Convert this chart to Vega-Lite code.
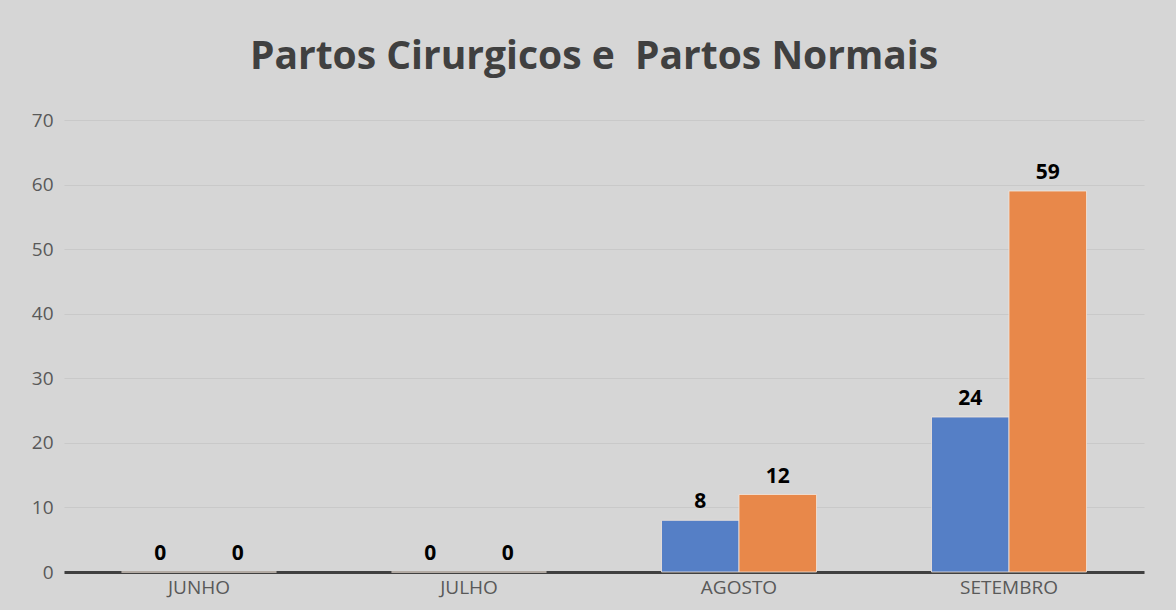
{
  "$schema": "https://vega.github.io/schema/vega-lite/v6.json",
  "autosize": {"type": "none"},
  "width": 1080,
  "height": 452,
  "padding": {"left": 64, "top": 120, "right": 32, "bottom": 38},
  "background": "#d6d6d6",
  "title": {
    "text": "Partos Cirurgicos e\u00a0 Partos Normais",
    "font": "Open Sans",
    "fontSize": 39,
    "fontWeight": "bold",
    "color": "#404040",
    "anchor": "middle",
    "offset": 34,
    "dx": -10
  },
  "config": {
    "view": {"stroke": null},
    "font": "Open Sans"
  },
  "data": {
    "values": [
      {"mes": "JUNHO", "tipo": "Partos Cirurgicos", "valor": 0},
      {"mes": "JUNHO", "tipo": "Partos Normais", "valor": 0},
      {"mes": "JULHO", "tipo": "Partos Cirurgicos", "valor": 0},
      {"mes": "JULHO", "tipo": "Partos Normais", "valor": 0},
      {"mes": "AGOSTO", "tipo": "Partos Cirurgicos", "valor": 8},
      {"mes": "AGOSTO", "tipo": "Partos Normais", "valor": 12},
      {"mes": "SETEMBRO", "tipo": "Partos Cirurgicos", "valor": 24},
      {"mes": "SETEMBRO", "tipo": "Partos Normais", "valor": 59}
    ]
  },
  "encoding": {
    "x": {
      "field": "mes",
      "type": "nominal",
      "sort": ["JUNHO", "JULHO", "AGOSTO", "SETEMBRO"],
      "scale": {"paddingInner": 0, "paddingOuter": 0},
      "axis": {
        "title": null,
        "labelAngle": 0,
        "labelFontSize": 19,
        "labelColor": "#595959",
        "labelPadding": 6,
        "ticks": false,
        "domainColor": "#404040",
        "domainWidth": 3,
        "labelFont": "Open Sans"
      }
    },
    "xOffset": {
      "field": "tipo",
      "type": "nominal",
      "scale": {"paddingInner": 0, "paddingOuter": 0.742}
    },
    "y": {
      "field": "valor",
      "type": "quantitative",
      "scale": {"domain": [0, 70], "nice": false},
      "axis": {
        "title": null,
        "values": [0, 10, 20, 30, 40, 50, 60, 70],
        "labelFontSize": 19,
        "labelColor": "#595959",
        "labelPadding": 11,
        "ticks": false,
        "domain": false,
        "gridColor": "#c9c9c9",
        "gridWidth": 1,
        "labelFont": "Open Sans"
      }
    }
  },
  "layer": [
    {
      "mark": {"type": "bar", "stroke": "#f2e6dc", "strokeWidth": 1, "strokeOpacity": 0.8},
      "encoding": {
        "color": {
          "field": "tipo",
          "type": "nominal",
          "scale": {"domain": ["Partos Cirurgicos", "Partos Normais"], "range": ["#557fc6", "#e8884a"]},
          "legend": null
        }
      }
    },
    {
      "mark": {"type": "text", "baseline": "bottom", "dy": -8, "fontSize": 21, "fontWeight": "bold", "color": "#000000", "font": "Open Sans"},
      "encoding": {
        "text": {"field": "valor", "type": "quantitative"}
      }
    }
  ]
}
